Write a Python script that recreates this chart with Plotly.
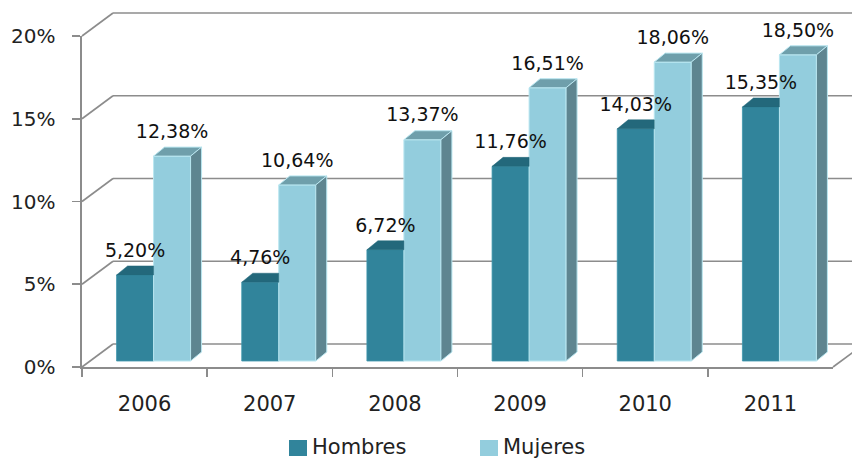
import plotly.graph_objects as go

# ---------------- data ----------------
years = ["2006", "2007", "2008", "2009", "2010", "2011"]
hombres = [5.20, 4.76, 6.72, 11.76, 14.03, 15.35]
mujeres = [12.38, 10.64, 13.37, 16.51, 18.06, 18.50]
y_ticks = [0, 5, 10, 15, 20]
series_names = ["Hombres", "Mujeres"]

# ---------------- geometry (pixel-based scale helpers) ----------------
W, H = 852, 458
AX_L, AX_R = 82, 833          # front axis left/right px
AX_T, AX_B = 36, 367          # front 20% / 0% px
CW = (AX_R - AX_L) / len(years)   # px per category
PY = (AX_B - AX_T) / 20.0         # px per percent

x_min = -0.5 - AX_L / CW
x_max = len(years) - 0.5 + (W - AX_R) / CW
y_min = -(H - AX_B) / PY
y_max = AX_B / PY

WALL_DX, WALL_DY = 31 / CW, 23 / PY
BAR_BASE = 6 / PY
BAR_W = 37 / CW
PAIR_SHIFT = 9 / CW
BAR_DX, BAR_DY = 11 / CW, 9 / PY
LABEL_GAP = 23 / PY

C_H_FRONT, C_H_TOP = "#31849B", "#23687B"
C_M_FRONT, C_M_TOP, C_M_SIDE = "#93CDDD", "#6F9FAB", "#5E8590"
GRID = "#8C8C8C"
FONT = "DejaVu Sans"

idx = list(range(len(years)))
xh = [i + PAIR_SHIFT - BAR_W / 2 for i in idx]
xm = [i + PAIR_SHIFT + BAR_W / 2 for i in idx]

fig = go.Figure()

# back wall / floor lines
shapes = []
for v in y_ticks:
    shapes.append(dict(type="line", xref="x", yref="y", x0=-0.5, y0=v,
                       x1=-0.5 + WALL_DX, y1=v + WALL_DY,
                       line=dict(color=GRID, width=1.6), layer="below"))
    shapes.append(dict(type="line", xref="x", yref="y", x0=-0.5 + WALL_DX, y0=v + WALL_DY,
                       x1=x_max + 1, y1=v + WALL_DY,
                       line=dict(color=GRID, width=1.6), layer="below"))
shapes.append(dict(type="line", xref="x", yref="y", x0=len(years) - 0.5, y0=0,
                   x1=len(years) - 0.5 + WALL_DX, y1=WALL_DY,
                   line=dict(color=GRID, width=1.6), layer="below"))

# front faces
fig.add_trace(go.Bar(x=xh, y=hombres, base=BAR_BASE, width=BAR_W, name=series_names[0],
                     marker=dict(color=C_H_FRONT, line=dict(color="#3D95AC", width=0.8)),
                     showlegend=False, hoverinfo="skip"))
fig.add_trace(go.Bar(x=xm, y=mujeres, base=BAR_BASE, width=BAR_W, name=series_names[1],
                     marker=dict(color=C_M_FRONT, line=dict(color="#B9E6F0", width=1)),
                     showlegend=False, hoverinfo="skip"))


def poly_trace(xs, ys, color, lc, lw):
    return go.Scatter(x=xs, y=ys, mode="lines", fill="toself", fillcolor=color,
                      line=dict(color=lc, width=lw), showlegend=False, hoverinfo="skip")


# Hombres top (clipped by Mujeres bar)
px, py = [], []
for x, v in zip(xh, hombres):
    xl, xr, t = x - BAR_W / 2, x + BAR_W / 2, BAR_BASE + v
    px += [xl, xr, xr, xl + BAR_DX, xl, None]
    py += [t, t, t + BAR_DY, t + BAR_DY, t, None]
fig.add_trace(poly_trace(px, py, C_H_TOP, C_H_TOP, 0.5))

# Mujeres top
px, py = [], []
for x, v in zip(xm, mujeres):
    xl, xr, t = x - BAR_W / 2, x + BAR_W / 2, BAR_BASE + v
    px += [xl, xr, xr + BAR_DX, xl + BAR_DX, xl, None]
    py += [t, t, t + BAR_DY, t + BAR_DY, t, None]
fig.add_trace(poly_trace(px, py, C_M_TOP, "#B9E6F0", 1))

# Mujeres side
px, py = [], []
for x, v in zip(xm, mujeres):
    xr, t, b = x + BAR_W / 2, BAR_BASE + v, BAR_BASE
    px += [xr, xr, xr + BAR_DX, xr + BAR_DX, xr, None]
    py += [b, t, t + BAR_DY, b + BAR_DY, b, None]
fig.add_trace(poly_trace(px, py, C_M_SIDE, "#B9E6F0", 1))

# data labels
def fmt(v):
    return f"{v:.2f}".replace(".", ",") + "%"

fig.add_trace(go.Scatter(x=xh, y=[BAR_BASE + v + LABEL_GAP for v in hombres],
                         mode="text", text=[fmt(v) for v in hombres],
                         textposition="middle center", cliponaxis=False,
                         textfont=dict(family=FONT, size=19, color="#111111"),
                         showlegend=False, hoverinfo="skip"))
fig.add_trace(go.Scatter(x=xm, y=[BAR_BASE + v + LABEL_GAP for v in mujeres],
                         mode="text", text=[fmt(v) for v in mujeres],
                         textposition="middle center", cliponaxis=False,
                         textfont=dict(family=FONT, size=19, color="#111111"),
                         showlegend=False, hoverinfo="skip"))

# front axes subplot (ticks and labels)
fig.add_trace(go.Scatter(x=years, y=[0] * len(years), xaxis="x2", yaxis="y2",
                         mode="markers", marker=dict(opacity=0), showlegend=False,
                         hoverinfo="skip"))

# legend (manual)
leg_x = [289, 480]
leg_colors = [C_H_FRONT, C_M_FRONT]
annotations = []
for lx, c, n in zip(leg_x, leg_colors, series_names):
    shapes.append(dict(type="rect", xref="paper", yref="paper",
                       x0=lx / W, x1=(lx + 18) / W, y0=1 - 456 / H, y1=1 - 440 / H,
                       fillcolor=c, line=dict(width=0)))
    annotations.append(dict(xref="paper", yref="paper", x=(lx + 21) / W, y=1 - 447 / H,
                            text=n, showarrow=False, xanchor="left", yanchor="middle",
                            font=dict(family=FONT, size=21, color="#222222")))

fig.update_layout(
    width=W, height=H,
    margin=dict(l=0, r=0, t=0, b=0, autoexpand=False),
    paper_bgcolor="white", plot_bgcolor="rgba(0,0,0,0)",
    barmode="overlay",
    showlegend=False,
    shapes=shapes, annotations=annotations,
    xaxis=dict(range=[x_min, x_max], visible=False, domain=[0, 1], automargin=False),
    yaxis=dict(range=[y_min, y_max], visible=False, domain=[0, 1], automargin=False),
    xaxis2=dict(domain=[AX_L / W, AX_R / W], anchor="y2", type="category",
                categoryorder="array", categoryarray=years, range=[-0.5, len(years) - 0.5],
                tickson="boundaries", ticks="outside", ticklen=8, tickwidth=1.6,
                tickcolor=GRID, showline=True, linecolor=GRID, linewidth=1.6,
                showgrid=False, zeroline=False, ticklabelstandoff=17, automargin=False,
                tickfont=dict(family=FONT, size=21, color="#222222")),
    yaxis2=dict(domain=[1 - AX_B / H, 1 - AX_T / H], anchor="x2", range=[0, 20],
                tickvals=y_ticks, ticktext=[f"{v}%" for v in y_ticks],
                ticks="outside", ticklen=8, tickwidth=1.6, tickcolor=GRID,
                showline=True, linecolor=GRID, linewidth=1.6, automargin=False,
                showgrid=False, zeroline=False, ticklabelstandoff=13,
                tickfont=dict(family=FONT, size=20, color="#222222")),
)

fig.write_html("out.html",
               config={"displayModeBar": False, "staticPlot": True},
               post_script="document.body.style.margin='0px';"
                           "document.body.style.overflow='hidden';")
